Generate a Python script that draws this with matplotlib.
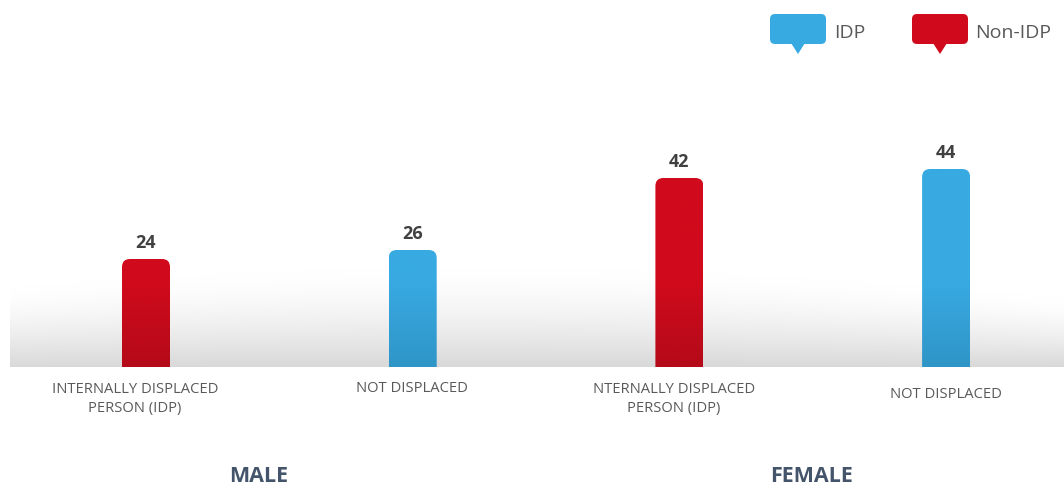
import numpy as np
import matplotlib
matplotlib.use("Agg")
import matplotlib.pyplot as plt
from matplotlib.patches import FancyBboxPatch, Polygon
from matplotlib import font_manager

# Data
categories = ["INTERNALLY DISPLACED\nPERSON (IDP)", "NOT DISPLACED",
              "NTERNALLY DISPLACED\nPERSON (IDP)", "NOT DISPLACED"]
values = [24, 26, 42, 44]
bar_kind = ["Non-IDP", "IDP", "Non-IDP", "IDP"]
groups = ["MALE", "FEMALE"]
legend_labels = ["IDP", "Non-IDP"]

# Styling
W, H = 1064, 489
BLUE_TOP, BLUE_BOT = "#38aae2", "#2f95c7"
RED_TOP, RED_BOT = "#d00a1c", "#b40a19"
kind_colors = {"IDP": (BLUE_TOP, BLUE_BOT), "Non-IDP": (RED_TOP, RED_BOT)}

available = {f.name for f in font_manager.fontManager.ttflist}
narrow = "Liberation Sans Narrow" if "Liberation Sans Narrow" in available else "Open Sans"
plt.rcParams['font.family'] = ['Open Sans', 'DejaVu Sans']

fig = plt.figure(figsize=(W / 100, H / 100), dpi=100)

# main axes: baseline at y=368px, bar centres at 146 + k*266.7 px
base_px, top_px = 368, 60
ax = fig.add_axes([10 / W, (H - base_px) / H, (W - 10) / W, (base_px - top_px) / H])
px_per_unit_x = 266.7
px_per_unit_y = 4.5
x0 = -(146 - 10) / px_per_unit_x
x1 = (W - 146) / px_per_unit_x
ax.set_xlim(x0, x1)
ax.set_ylim(0, (base_px - top_px) / px_per_unit_y)
ax.axis("off")

# grey floor shading with a soft curved top
nx, ny = 400, 200
floor_top = 24
xs = np.linspace(0, 1, nx)
ys = np.linspace(0, floor_top, ny)
X, Y = np.meshgrid(xs, ys)
h = 14 + 8 * np.sin(np.pi * (0.15 + 0.8 * X))
t = np.clip(1 - Y / h, 0, 1) ** 1.5
shade = 1 - 0.15 * t
img = np.dstack([shade, shade, shade])
ax.imshow(img, extent=[x0, x1, 0, floor_top], origin="lower",
          aspect="auto", zorder=0, interpolation="bilinear")

# bars
xpos = np.arange(len(values))
bw = 48 / px_per_unit_x
bars = ax.bar(xpos, values, width=bw, color="none", zorder=1)
rx = 8 / px_per_unit_x
ry = 8 / px_per_unit_y
dark_zone = 85 / px_per_unit_y   # darkening only near the floor
for rect, kind, v in zip(bars, bar_kind, values):
    bx, bwid, bh = rect.get_x(), rect.get_width(), rect.get_height()
    patch = FancyBboxPatch((bx, -2 * ry), bwid, bh + 2 * ry,
                           boxstyle=f"round,pad=0,rounding_size={rx}",
                           mutation_aspect=ry / rx,
                           facecolor="none", edgecolor="none", zorder=2)
    ax.add_patch(patch)
    c_top, c_bot = kind_colors[kind]
    yy = np.linspace(0, bh, 200)
    w = np.clip(1 - yy / dark_zone, 0, 1)[:, None, None]
    ct = np.array(matplotlib.colors.to_rgb(c_top))
    cb = np.array(matplotlib.colors.to_rgb(c_bot))
    g = ct[None, None, :] * (1 - w) + cb[None, None, :] * w
    gi = ax.imshow(g, extent=[bx, bx + bwid, 0, bh], origin="lower",
                   aspect="auto", zorder=3, interpolation="bilinear")
    gi.set_clip_path(patch)
    ax.text(rect.get_x() + bwid / 2, bh + 17 / px_per_unit_y, str(v),
            ha="center", va="center", fontsize=13, fontweight="bold",
            color="#404040", zorder=4)

# overlay axes in pixel coordinates for labels and legend
ov = fig.add_axes([0, 0, 1, 1], facecolor="none")
ov.set_xlim(0, W)
ov.set_ylim(H, 0)
ov.axis("off")

cat_pos = [(135, 399), (412, 389), (674, 399), (946, 395)]
for (cx, cy), lab in zip(cat_pos, categories):
    ov.text(cx, cy, lab, ha="center", va="center", fontsize=10.6,
            color="#595959", family=narrow, linespacing=1.4)

for gx, lab in zip([259, 812], groups):
    ov.text(gx, 476, lab, ha="center", va="center", fontsize=15.5,
            fontweight="bold", color="#44546a", family=narrow)

# speech-bubble legend
def bubble(x, y, w, h, color):
    box = FancyBboxPatch((x, y), w, h, boxstyle="round,pad=0,rounding_size=5",
                         facecolor=color, edgecolor="none")
    ov.add_patch(box)
    tx = x + w / 2
    tail = Polygon([[tx - 7, y + h - 1], [tx + 7, y + h - 1], [tx, y + h + 10]],
                   closed=True, facecolor=color, edgecolor="none")
    ov.add_patch(tail)

bubble(770, 15, 56, 30, BLUE_TOP)
bubble(912, 15, 56, 30, RED_TOP)
ov.text(834, 33, legend_labels[0], ha="left", va="center", fontsize=14, color="#595959")
ov.text(975, 33, legend_labels[1], ha="left", va="center", fontsize=14, color="#595959")

fig.savefig("out.png", dpi=100, facecolor="white")
